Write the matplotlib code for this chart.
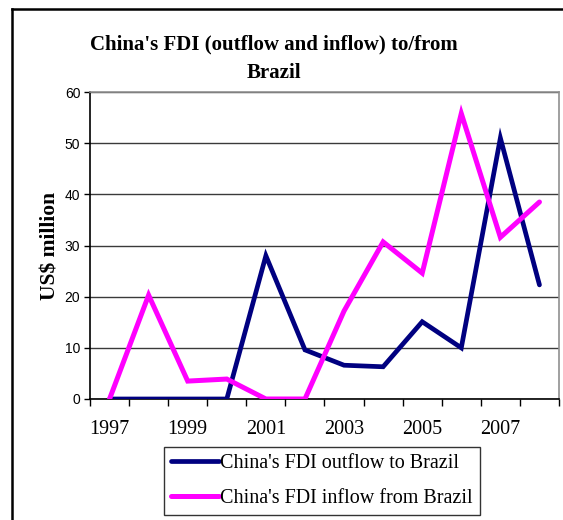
import numpy as np
import matplotlib.pyplot as plt
from matplotlib.lines import Line2D

# data
years = [1997, 1998, 1999, 2000, 2001, 2002, 2003, 2004, 2005, 2006, 2007, 2008]
outflow = [0, 0, 0, 0, 28.0, 9.6, 6.6, 6.3, 15.1, 10.0, 51.0, 22.3]
inflow = [0, 20.3, 3.5, 3.9, 0, 0, 17.2, 30.7, 24.6, 55.8, 31.6, 38.5]
label_years = [1997, 1999, 2001, 2003, 2005, 2007]
y_ticks = [0, 10, 20, 30, 40, 50, 60]

serif = ['Liberation Serif', 'DejaVu Serif']
sans = ['Liberation Sans', 'DejaVu Sans']

fig = plt.figure(figsize=(5.63, 5.20), dpi=100)
ax = fig.add_axes([90 / 563, 1 - 399 / 520, (559 - 90) / 563, (399 - 92) / 520])

ax.plot(years, outflow, color='#000080', lw=3.4, solid_capstyle='round',
        solid_joinstyle='miter', label="China's FDI outflow to Brazil", zorder=3)
ax.plot(years, inflow, color='#FF00FF', lw=3.6, solid_capstyle='round',
        solid_joinstyle='miter', label="China's FDI inflow from Brazil", zorder=4)

ax.set_xlim(years[0] - 0.5, years[-1] + 0.5)
ax.set_ylim(0, 60)

# category boundary ticks, labels centred on every other category
ax.set_xticks(np.arange(years[0] - 0.5, years[-1] + 1, 1))
ax.set_xticklabels([])
ax.set_xticks(label_years, minor=True)
ax.set_xticklabels([str(y) for y in label_years], minor=True, family=serif, fontsize=14.5)
ax.tick_params(axis='x', which='major', direction='out', length=5, width=1, color='black')
ax.tick_params(axis='x', which='minor', length=0, pad=15)

ax.set_yticks(y_ticks)
ax.set_yticklabels([str(v) for v in y_ticks], family=sans, fontsize=10)
ax.tick_params(axis='y', direction='out', length=4, width=1, pad=3)

ax.grid(axis='y', color='#3a3a3a', lw=1)
ax.set_axisbelow(True)
ax.spines['left'].set_color('black')
ax.spines['bottom'].set_color('black')
ax.spines['top'].set_color('#909090')
ax.spines['right'].set_color('#909090')
for s in ax.spines.values():
    s.set_linewidth(1.2)

ax.set_ylabel('US$ million', family=serif, fontsize=15.5, fontweight='bold', labelpad=3)

# title (two lines, as in the reference)
fig.text(274 / 563, 1 - 44 / 520, "China's FDI (outflow and inflow) to/from",
         family=serif, fontsize=15, fontweight='bold', ha='center', va='center')
fig.text(274 / 563, 1 - 73 / 520, "Brazil",
         family=serif, fontsize=15, fontweight='bold', ha='center', va='center')

leg = fig.legend(loc='upper left', bbox_to_anchor=(164 / 563, 1 - 447 / 520),
                 prop={'family': serif, 'size': 14.5}, frameon=True, fancybox=False,
                 handlelength=2.4, handletextpad=0.05, borderpad=0.35,
                 labelspacing=0.8, borderaxespad=0)
leg.get_frame().set_edgecolor('black')
leg.get_frame().set_linewidth(1)

# outer chart frame (cropped on the right and bottom)
fig.add_artist(Line2D([12 / 563, 12 / 563], [0, 1 - 9 / 520], color='black', lw=1.8,
                      transform=fig.transFigure))
fig.add_artist(Line2D([12 / 563, 1], [1 - 9 / 520, 1 - 9 / 520], color='black', lw=1.8,
                      transform=fig.transFigure))

fig.savefig('out.png', dpi=100)
